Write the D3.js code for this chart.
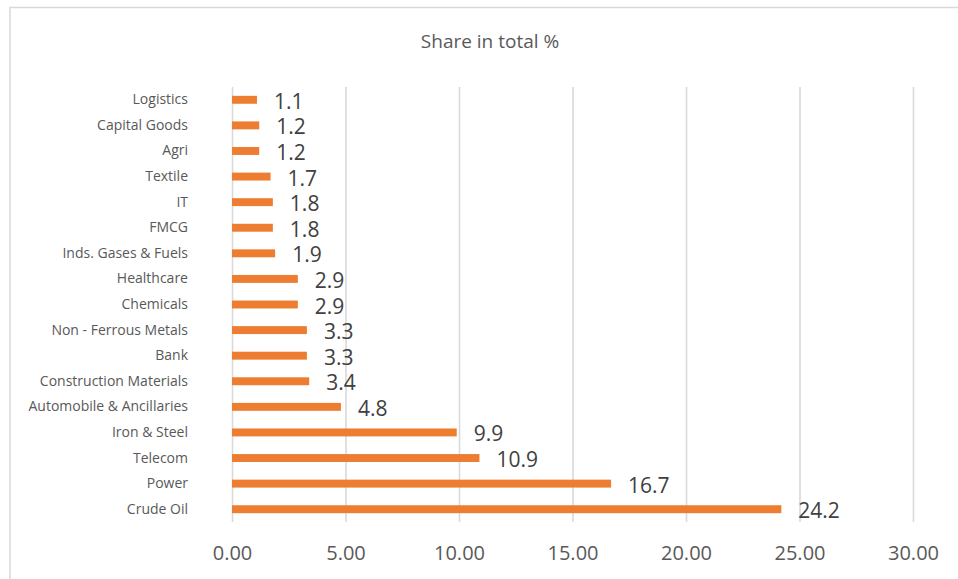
<html>
<head>
    <script src="https://cdnjs.cloudflare.com/ajax/libs/d3/7.8.5/d3.min.js"></script>
    <style>
        body { margin: 0; background: #fff; }
        svg { display: block; font-family: "Open Sans", sans-serif; }
    </style>
</head>
<body>
    <script>
        var sectors = ["Logistics", "Capital Goods", "Agri", "Textile", "IT", "FMCG",
            "Inds. Gases & Fuels", "Healthcare", "Chemicals", "Non - Ferrous Metals", "Bank",
            "Construction Materials", "Automobile & Ancillaries", "Iron & Steel", "Telecom",
            "Power", "Crude Oil"];
        var shares = [1.1, 1.2, 1.2, 1.7, 1.8, 1.8, 1.9, 2.9, 2.9, 3.3, 3.3, 3.4, 4.8, 9.9, 10.9, 16.7, 24.2];
        var xTicks = [0, 5, 10, 15, 20, 25, 30];
        var title = "Share in total %";

        var width = 958;
        var height = 579;
        var margin = { top: 87, left: 232, right: 45, bottom: 57 };
        var plotW = width - margin.left - margin.right;
        var plotH = height - margin.top - margin.bottom;

        var svg = d3.select("body").append("svg")
            .attr("width", width)
            .attr("height", height);

        // chart frame (right and bottom edges fall outside the picture)
        svg.append("rect")
            .attr("x", 10)
            .attr("y", 7.5)
            .attr("width", width + 20)
            .attr("height", height + 20)
            .attr("fill", "none")
            .attr("stroke", "#d9d9d9")
            .attr("stroke-width", 1.5);

        svg.append("text")
            .attr("x", 490)
            .attr("y", 48)
            .attr("text-anchor", "middle")
            .attr("font-size", 19)
            .attr("fill", "#595959")
            .text(title);

        var g = svg.append("g")
            .attr("transform", "translate(" + margin.left + "," + margin.top + ")");

        var x = d3.scaleLinear()
            .domain([0, 30])
            .range([0, plotW]);

        var y = d3.scaleBand()
            .domain(sectors)
            .range([0, plotH])
            .paddingInner(0.69)
            .paddingOuter(0.345);

        var xAxisGroup = g.append("g")
            .attr("transform", "translate(0," + plotH + ")")
            .call(d3.axisBottom(x)
                .tickValues(xTicks)
                .tickFormat(d3.format(".2f"))
                .tickSizeInner(-plotH)
                .tickSizeOuter(0)
                .tickPadding(24));

        xAxisGroup.select(".domain").remove();
        xAxisGroup.selectAll("line")
            .attr("stroke", "#d9d9d9")
            .attr("stroke-width", 1.6);
        xAxisGroup.selectAll("text")
            .attr("font-size", 20)
            .attr("fill", "#595959")
            .attr("font-family", "Open Sans");

        var yAxisGroup = g.append("g")
            .call(d3.axisLeft(y).tickSize(0).tickPadding(44));

        yAxisGroup.select(".domain").remove();
        yAxisGroup.selectAll("text")
            .attr("font-size", 14)
            .attr("fill", "#595959")
            .attr("font-family", "Open Sans");

        var rows = sectors.map(function (s, i) { return { name: s, value: shares[i] }; });

        g.selectAll(".bar")
            .data(rows)
            .enter().append("rect")
            .attr("class", "bar")
            .attr("x", x(0))
            .attr("y", d => y(d.name))
            .attr("width", d => x(d.value) - x(0))
            .attr("height", y.bandwidth())
            .attr("fill", "#ed7d31");

        g.selectAll(".val")
            .data(rows)
            .enter().append("text")
            .attr("class", "val")
            .attr("x", d => x(d.value) + 17)
            .attr("y", d => y(d.name) + y.bandwidth() / 2 + 9)
            .attr("font-size", 21)
            .attr("fill", "#404040")
            .text(d => d.value);
    </script>
</body>
</html>
